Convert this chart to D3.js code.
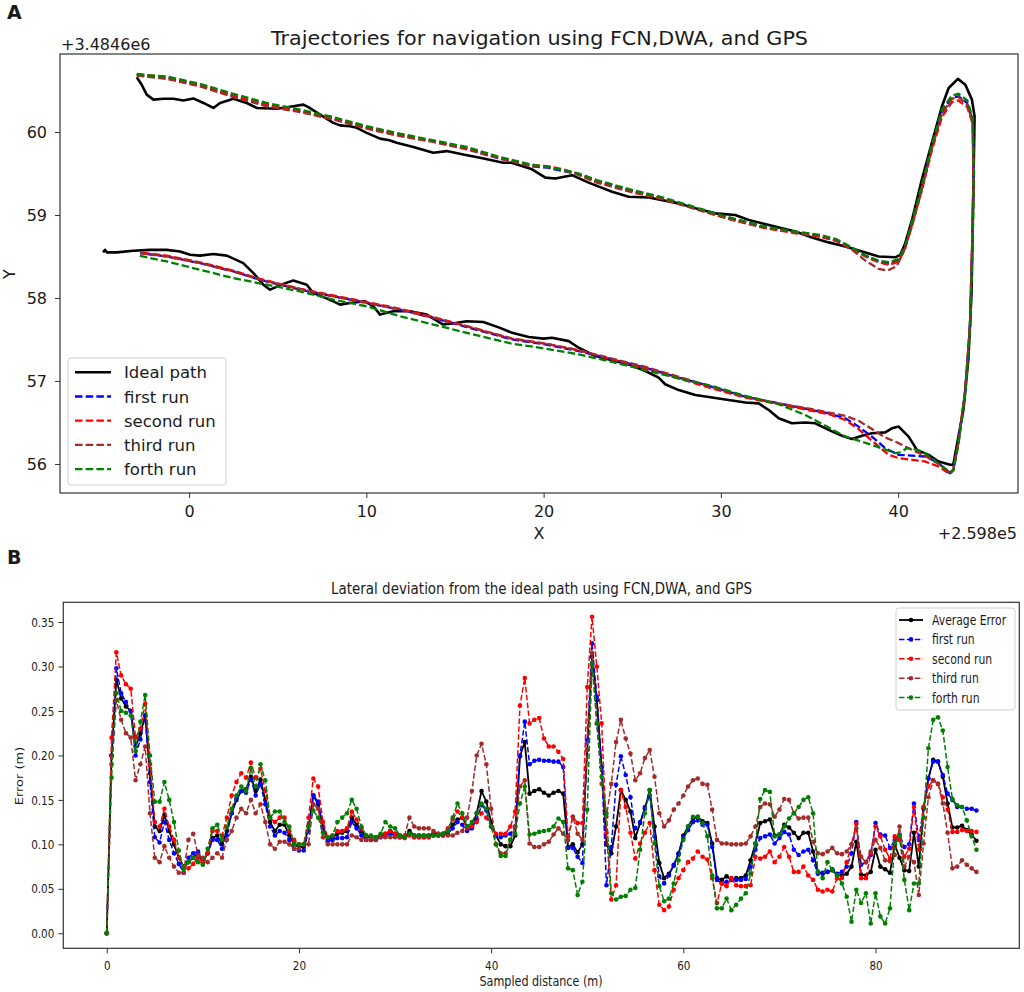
<!DOCTYPE html>
<html><head><meta charset="utf-8">
<script src="https://cdn.jsdelivr.net/npm/d3@7"></script>
<style>body{margin:0;background:#fff}svg{display:block}text{font-family:"DejaVu Sans",sans-serif;fill:#1a1a1a}</style>
</head><body>
<svg id="c" width="1024" height="992"></svg>
<script>
// ---------------- Panel A data (X offset +2.598e5, Y offset +3.4846e6) ----------------
const xTicksA = [0, 10, 20, 30, 40];
const yTicksA = [56, 57, 58, 59, 60];
const idealPath = [[-2.95,60.66],[-2.67,60.57],[-2.39,60.45],[-2.01,60.39],[-1.45,60.40],[-0.88,60.40],[-0.32,60.38],[0.24,60.405],[0.81,60.35],[1.37,60.29],[1.75,60.35],[2.5,60.40],[3.25,60.35],[3.82,60.29],[4.95,60.28],[5.88,60.31],[6.45,60.33],[6.73,60.30],[7.39,60.21],[8.14,60.11],[8.52,60.08],[9.08,60.07],[9.46,60.05],[10.02,59.99],[10.77,59.92],[11.3,59.90],[11.71,59.87],[12.65,59.82],[13.78,59.75],[14.53,59.77],[15.47,59.73],[16.41,59.69],[17.73,59.63],[18.2,59.63],[19.35,59.55],[20.1,59.45],[20.66,59.44],[21.6,59.48],[22.54,59.39],[23.86,59.28],[24.8,59.22],[25.93,59.21],[27.62,59.14],[28.75,59.07],[29.69,59.02],[30.81,59.0],[31.57,58.94],[32.7,58.88],[34.2,58.80],[35.14,58.73],[36.08,58.67],[37.02,58.62],[37.96,58.56],[38.9,58.50],[39.84,58.49],[40.12,58.52],[40.4,58.66],[40.78,58.94],[41.34,59.43],[41.9,59.87],[42.47,60.31],[42.85,60.53],[43.37,60.64],[43.79,60.57],[44.16,60.39],[44.31,60.19],[44.24,59.27],[44.14,58.06],[43.96,57.26],[43.68,56.65],[43.33,56.25],[43.11,55.99],[42.94,55.99],[42.28,56.03],[41.72,56.11],[41.06,56.17],[40.59,56.33],[40.03,56.45],[39.65,56.43],[39.27,56.38],[38.52,56.37],[37.96,56.34],[37.4,56.30],[36.83,56.34],[36.08,56.41],[35.33,56.49],[34.76,56.50],[34.01,56.49],[33.26,56.55],[32.7,56.65],[32.13,56.73],[31.38,56.74],[30.44,56.77],[29.5,56.80],[28.56,56.83],[27.62,56.89],[26.86,56.96],[26.49,57.04],[25.74,57.12],[24.8,57.20],[23.86,57.25],[22.92,57.30],[21.98,57.40],[21.42,57.48],[20.47,57.52],[20.0,57.51],[19.16,57.53],[18.22,57.58],[17.54,57.64],[16.6,57.71],[15.66,57.72],[15.1,57.70],[14.34,57.68],[13.41,57.80],[12.46,57.84],[11.52,57.84],[10.77,57.80],[10.4,57.90],[9.93,57.96],[9.08,57.94],[8.52,57.92],[8.14,57.96],[7.58,58.01],[7.01,58.06],[6.64,58.16],[5.88,58.21],[5.32,58.17],[4.57,58.10],[4.19,58.16],[3.63,58.30],[3.06,58.42],[2.13,58.51],[1.37,58.53],[0.62,58.51],[0.06,58.52],[-0.51,58.56],[-1.26,58.58],[-2.2,58.58],[-3.14,58.57],[-4.08,58.55],[-4.64,58.55],[-4.74,58.58],[-4.85,58.55]];
const firstRunPath = [[-2.95,60.69],[-1.26,60.65],[0.62,60.56],[2.5,60.43],[4.38,60.32],[6.26,60.25],[8.14,60.16],[10.02,60.05],[11.9,59.96],[13.78,59.89],[15.66,59.80],[17.35,59.69],[19.23,59.59],[20.2,59.57],[21.1,59.53],[22.0,59.49],[23.0,59.41],[24.87,59.30],[26.75,59.20],[28.6,59.08],[30.5,58.96],[32.3,58.86],[34.2,58.79],[35.6,58.74],[36.5,58.69],[37.4,58.60],[38.15,58.51],[38.9,58.44],[39.5,58.41],[40.03,58.46],[40.4,58.62],[40.78,58.90],[41.34,59.34],[41.9,59.83],[42.47,60.23],[43.03,60.41],[43.41,60.43],[43.88,60.35],[44.2,60.15],[44.25,59.5],[44.2,58.86],[44.05,57.66],[43.77,56.86],[43.39,56.25],[43.11,55.93],[42.92,55.89],[42.28,56.01],[41.53,56.09],[40.78,56.10],[40.03,56.11],[39.27,56.19],[38.52,56.33],[37.77,56.45],[37.02,56.55],[36.08,56.61],[35.14,56.65],[33.26,56.73],[31.38,56.81],[29.5,56.93],[27.62,57.04],[25.74,57.16],[23.86,57.26],[21.98,57.36],[20.1,57.44],[18.22,57.50],[15.66,57.65],[13.78,57.76],[11.9,57.86],[10.02,57.94],[8.14,58.02],[6.26,58.10],[4.0,58.22],[2.5,58.32],[0.62,58.42],[-1.26,58.50],[-2.76,58.54]];
const secondRunPath = [[-2.95,60.70],[-1.26,60.66],[0.62,60.57],[2.5,60.44],[4.38,60.33],[6.26,60.25],[8.14,60.16],[10.02,60.06],[11.9,59.97],[13.78,59.89],[15.66,59.80],[17.35,59.70],[19.23,59.60],[20.2,59.59],[21.1,59.55],[22.0,59.49],[23.0,59.40],[24.87,59.29],[26.75,59.19],[28.6,59.07],[30.5,58.95],[32.3,58.85],[34.2,58.78],[35.6,58.74],[36.5,58.69],[37.4,58.59],[38.15,58.50],[38.9,58.43],[39.5,58.40],[40.03,58.44],[40.4,58.60],[40.78,58.88],[41.34,59.30],[41.9,59.78],[42.47,60.18],[43.03,60.36],[43.4,60.38],[43.9,60.30],[44.2,60.10],[44.25,59.5],[44.2,58.86],[44.05,57.66],[43.77,56.86],[43.39,56.24],[43.11,55.92],[42.9,55.88],[42.28,55.97],[41.5,56.03],[40.78,56.05],[40.03,56.07],[39.46,56.11],[38.52,56.28],[37.77,56.42],[37.02,56.53],[36.08,56.60],[35.14,56.64],[33.26,56.72],[31.38,56.80],[29.5,56.91],[27.62,57.03],[25.74,57.15],[23.86,57.26],[21.98,57.37],[20.1,57.45],[18.22,57.51],[15.66,57.66],[13.78,57.77],[11.9,57.87],[10.02,57.95],[8.14,58.03],[6.26,58.11],[4.0,58.23],[2.5,58.33],[0.62,58.43],[-1.26,58.51],[-2.76,58.55]];
const thirdRunPath = [[-2.95,60.68],[-1.26,60.64],[0.62,60.55],[2.5,60.42],[4.38,60.31],[6.26,60.24],[8.14,60.15],[10.02,60.04],[11.9,59.95],[13.78,59.88],[15.66,59.79],[17.35,59.69],[19.23,59.59],[20.2,59.58],[21.1,59.54],[22.0,59.48],[23.0,59.39],[24.87,59.28],[26.75,59.19],[28.6,59.07],[30.5,58.95],[32.3,58.86],[34.2,58.79],[35.6,58.75],[36.5,58.69],[37.4,58.58],[38.15,58.45],[38.9,58.35],[39.4,58.33],[39.9,58.38],[40.3,58.55],[40.78,58.86],[41.34,59.31],[41.9,59.80],[42.47,60.22],[43.03,60.40],[43.4,60.42],[43.9,60.33],[44.2,60.12],[44.25,59.5],[44.2,58.86],[44.05,57.66],[43.77,56.86],[43.39,56.25],[43.11,55.93],[42.92,55.90],[42.28,56.00],[41.5,56.10],[40.78,56.17],[40.03,56.25],[39.27,56.32],[38.52,56.42],[37.77,56.52],[37.02,56.58],[36.08,56.62],[35.14,56.66],[33.26,56.73],[31.38,56.81],[29.5,56.93],[27.62,57.05],[25.74,57.17],[23.86,57.27],[21.98,57.37],[20.1,57.45],[18.22,57.51],[15.66,57.66],[13.78,57.76],[11.9,57.86],[10.02,57.94],[8.14,58.02],[6.26,58.11],[4.0,58.22],[2.5,58.32],[0.62,58.42],[-1.26,58.50],[-2.76,58.54]];
const forthRunPath = [[-2.95,60.69],[-1.26,60.67],[0.62,60.58],[2.5,60.46],[4.38,60.35],[6.26,60.27],[8.14,60.18],[10.02,60.07],[11.9,59.98],[13.78,59.90],[15.66,59.82],[17.35,59.71],[19.23,59.61],[20.2,59.58],[21.1,59.54],[22.0,59.50],[23.0,59.42],[24.87,59.31],[26.75,59.21],[28.6,59.09],[30.5,58.97],[32.3,58.87],[34.2,58.80],[35.6,58.76],[36.5,58.71],[37.4,58.61],[38.15,58.51],[38.9,58.45],[39.5,58.43],[40.03,58.47],[40.4,58.63],[40.78,58.92],[41.34,59.36],[41.9,59.85],[42.47,60.27],[43.03,60.44],[43.4,60.46],[43.9,60.38],[44.2,60.17],[44.28,59.5],[44.22,58.86],[44.07,57.66],[43.79,56.86],[43.41,56.25],[43.13,55.93],[42.94,55.90],[42.47,55.97],[41.9,56.07],[41.34,56.15],[40.9,56.18],[40.5,56.19],[40.1,56.14],[39.84,56.13],[38.52,56.23],[37.02,56.33],[35.9,56.46],[34.76,56.59],[33.26,56.72],[31.38,56.82],[29.5,56.94],[27.62,57.03],[25.74,57.13],[23.86,57.23],[21.98,57.32],[20.1,57.39],[18.22,57.45],[15.66,57.58],[13.78,57.68],[11.9,57.78],[10.02,57.90],[8.14,57.98],[6.26,58.08],[4.38,58.16],[2.5,58.24],[0.62,58.34],[-1.26,58.44],[-2.86,58.51]];

// ---------------- Panel B data (sampled every 0.5 m) ----------------
const sampleStep = 0.5;
const xTicksB = [0, 20, 40, 60, 80];
const yTicksB = [0, 0.05, 0.10, 0.15, 0.20, 0.25, 0.30, 0.35];
const averageError = [0,0.2,0.285,0.264,0.255,0.25,0.21,0.225,0.245,0.18, 0.12,0.115,0.133,0.115,0.1,0.085,0.075,0.08,0.085,0.09, 0.08,0.09,0.107,0.11,0.1,0.115,0.135,0.15,0.16,0.162, 0.176,0.16,0.173,0.15,0.125,0.115,0.122,0.122,0.11,0.1, 0.097,0.097,0.12,0.155,0.145,0.12,0.105,0.108,0.112,0.113, 0.115,0.13,0.122,0.115,0.108,0.108,0.108,0.11,0.112,0.115, 0.112,0.11,0.108,0.115,0.11,0.11,0.11,0.11,0.112,0.112, 0.112,0.115,0.122,0.128,0.13,0.12,0.12,0.135,0.16,0.148, 0.125,0.11,0.1,0.098,0.098,0.11,0.199,0.215,0.157,0.16, 0.162,0.158,0.155,0.158,0.16,0.157,0.097,0.1,0.091,0.1, 0.206,0.311,0.262,0.187,0.1,0.09,0.12,0.161,0.15,0.137, 0.107,0.124,0.14,0.161,0.12,0.079,0.062,0.067,0.076,0.089, 0.11,0.12,0.129,0.131,0.126,0.124,0.101,0.062,0.06,0.064, 0.06,0.062,0.062,0.065,0.082,0.101,0.124,0.126,0.128,0.11, 0.111,0.122,0.119,0.113,0.107,0.113,0.113,0.092,0.069,0.067, 0.069,0.071,0.065,0.065,0.067,0.075,0.103,0.066,0.065,0.069, 0.094,0.075,0.072,0.068,0.1,0.085,0.071,0.07,0.113,0.075, 0.14,0.174,0.195,0.193,0.176,0.146,0.119,0.119,0.121,0.116, 0.111,0.104];
const firstRun = [0,0.2,0.298,0.27,0.26,0.25,0.2,0.218,0.245,0.17, 0.108,0.102,0.125,0.105,0.09,0.078,0.068,0.085,0.09,0.092, 0.08,0.09,0.105,0.105,0.095,0.11,0.135,0.152,0.16,0.158, 0.173,0.155,0.168,0.145,0.12,0.11,0.115,0.113,0.105,0.095, 0.093,0.093,0.115,0.155,0.148,0.118,0.103,0.105,0.107,0.107, 0.108,0.125,0.118,0.11,0.105,0.105,0.105,0.108,0.11,0.112, 0.11,0.108,0.108,0.112,0.108,0.108,0.108,0.108,0.11,0.11, 0.11,0.112,0.118,0.125,0.122,0.115,0.118,0.128,0.144,0.138, 0.12,0.11,0.108,0.11,0.112,0.12,0.2,0.238,0.19,0.194, 0.195,0.194,0.194,0.193,0.193,0.187,0.096,0.096,0.086,0.079, 0.217,0.326,0.266,0.187,0.054,0.097,0.167,0.199,0.178,0.153, 0.118,0.125,0.142,0.155,0.109,0.064,0.056,0.065,0.077,0.09, 0.107,0.116,0.125,0.127,0.122,0.122,0.097,0.06,0.056,0.058, 0.06,0.06,0.06,0.061,0.075,0.094,0.107,0.109,0.111,0.101, 0.107,0.114,0.111,0.094,0.088,0.092,0.094,0.082,0.067,0.068, 0.069,0.072,0.067,0.069,0.075,0.09,0.125,0.077,0.08,0.088, 0.124,0.111,0.11,0.096,0.105,0.111,0.097,0.1,0.146,0.105, 0.142,0.174,0.193,0.193,0.178,0.157,0.15,0.142,0.142,0.14, 0.14,0.138];
const secondRun = [0,0.22,0.316,0.29,0.28,0.275,0.22,0.23,0.258,0.19, 0.125,0.12,0.14,0.12,0.105,0.085,0.075,0.073,0.078,0.085, 0.08,0.09,0.115,0.115,0.11,0.13,0.155,0.17,0.18,0.175, 0.192,0.175,0.185,0.16,0.13,0.125,0.13,0.13,0.115,0.105, 0.1,0.1,0.13,0.174,0.165,0.125,0.108,0.11,0.115,0.115, 0.118,0.137,0.128,0.118,0.11,0.108,0.108,0.11,0.112,0.115, 0.112,0.108,0.107,0.11,0.108,0.108,0.108,0.108,0.11,0.11, 0.112,0.118,0.128,0.137,0.13,0.118,0.12,0.125,0.135,0.13, 0.12,0.112,0.112,0.112,0.12,0.137,0.256,0.287,0.236,0.24, 0.242,0.219,0.21,0.21,0.204,0.196,0.109,0.131,0.124,0.124, 0.277,0.356,0.3,0.236,0.113,0.038,0.054,0.161,0.142,0.113, 0.084,0.101,0.113,0.124,0.071,0.032,0.026,0.03,0.049,0.062, 0.071,0.08,0.084,0.092,0.086,0.083,0.062,0.034,0.056,0.053, 0.062,0.054,0.053,0.053,0.054,0.086,0.084,0.086,0.092,0.08, 0.086,0.097,0.086,0.069,0.069,0.075,0.065,0.06,0.049,0.047, 0.049,0.047,0.062,0.062,0.08,0.1,0.123,0.062,0.062,0.09, 0.12,0.109,0.094,0.084,0.109,0.105,0.086,0.095,0.142,0.094, 0.142,0.165,0.172,0.168,0.153,0.139,0.114,0.114,0.116,0.115, 0.115,0.114];
const thirdRun = [0,0.19,0.262,0.24,0.225,0.22,0.172,0.19,0.21,0.135, 0.085,0.08,0.098,0.085,0.075,0.068,0.068,0.105,0.112,0.088, 0.085,0.08,0.085,0.09,0.085,0.105,0.115,0.13,0.14,0.135, 0.15,0.135,0.145,0.125,0.1,0.095,0.103,0.103,0.1,0.095, 0.095,0.1,0.1,0.145,0.14,0.108,0.1,0.1,0.1,0.1, 0.1,0.11,0.108,0.105,0.105,0.105,0.105,0.108,0.108,0.108, 0.108,0.108,0.11,0.13,0.12,0.118,0.118,0.118,0.115,0.112, 0.11,0.11,0.11,0.113,0.115,0.13,0.16,0.2,0.213,0.19, 0.14,0.1,0.09,0.09,0.105,0.12,0.165,0.172,0.101,0.097, 0.097,0.1,0.103,0.111,0.118,0.112,0.105,0.131,0.112,0.105, 0.206,0.315,0.236,0.168,0.131,0.168,0.215,0.24,0.219,0.202, 0.172,0.18,0.197,0.206,0.176,0.135,0.12,0.127,0.139,0.146, 0.155,0.165,0.172,0.174,0.168,0.167,0.139,0.105,0.101,0.101, 0.1,0.1,0.1,0.101,0.109,0.12,0.142,0.146,0.145,0.131, 0.139,0.151,0.15,0.135,0.129,0.13,0.13,0.103,0.09,0.089, 0.092,0.096,0.09,0.089,0.092,0.1,0.118,0.086,0.08,0.092, 0.105,0.096,0.082,0.081,0.088,0.12,0.075,0.086,0.08,0.043, 0.101,0.153,0.172,0.168,0.146,0.113,0.073,0.075,0.082,0.077, 0.073,0.069];
const forthRun = [0,0.175,0.27,0.25,0.248,0.245,0.205,0.238,0.268,0.2, 0.148,0.148,0.17,0.15,0.125,0.093,0.072,0.08,0.085,0.08, 0.077,0.095,0.118,0.122,0.105,0.12,0.14,0.155,0.165,0.16, 0.186,0.165,0.19,0.172,0.13,0.137,0.137,0.125,0.12,0.1, 0.1,0.1,0.12,0.138,0.13,0.113,0.108,0.11,0.125,0.13, 0.135,0.15,0.14,0.12,0.11,0.11,0.108,0.112,0.125,0.12, 0.118,0.11,0.108,0.112,0.11,0.11,0.11,0.11,0.11,0.11, 0.112,0.115,0.13,0.146,0.135,0.12,0.125,0.135,0.146,0.14, 0.12,0.1,0.087,0.087,0.105,0.112,0.146,0.165,0.111,0.112, 0.114,0.115,0.116,0.12,0.129,0.125,0.073,0.071,0.043,0.058, 0.139,0.303,0.236,0.176,0.135,0.045,0.038,0.041,0.042,0.049, 0.051,0.094,0.135,0.161,0.101,0.053,0.036,0.039,0.056,0.082, 0.105,0.12,0.131,0.131,0.124,0.109,0.065,0.028,0.028,0.039, 0.026,0.032,0.039,0.045,0.067,0.101,0.151,0.161,0.159,0.109, 0.111,0.12,0.129,0.135,0.142,0.15,0.153,0.135,0.069,0.062, 0.08,0.071,0.065,0.056,0.041,0.013,0.049,0.034,0.045,0.011, 0.045,0.019,0.011,0.028,0.101,0.11,0.06,0.026,0.056,0.056, 0.13,0.208,0.24,0.243,0.228,0.187,0.151,0.144,0.142,0.127, 0.109,0.094];

const runNames = ["first run", "second run", "third run", "forth run"];
const runColors = ["#0000ff", "#ff0000", "#a52a2a", "#008000"];

// ---------------- drawing ----------------
const svg = d3.select("#c");
const FONT = '"DejaVu Sans", sans-serif';

function squeeze(sel, f) {
  sel.each(function () {
    const w = this.getComputedTextLength();
    d3.select(this).attr("textLength", w * f).attr("lengthAdjust", "spacingAndGlyphs");
  });
}

// ===== Panel A =====
const A = { l: 60, r: 1018, t: 54, b: 493 };
const xA = d3.scaleLinear().domain([-7.28, 46.76]).range([A.l, A.r]);
const yA = d3.scaleLinear().domain([55.65, 60.94]).range([A.b, A.t]);
const gA = svg.append("g");

svg.append("text").attr("x", 7).attr("y", 19).attr("font-size", 19).attr("font-weight", "bold")
  .attr("font-family", "Liberation Sans, Arial, sans-serif").text("A");

const lineA = d3.line().x(d => xA(d[0])).y(d => yA(d[1]));

gA.append("path").datum(idealPath).attr("d", lineA).attr("fill", "none")
  .attr("stroke", "#000").attr("stroke-width", 2.6).attr("stroke-linejoin", "round");
[firstRunPath, secondRunPath, thirdRunPath, forthRunPath].forEach((p, i) => {
  gA.append("path").datum(p).attr("d", lineA).attr("fill", "none")
    .attr("stroke", runColors[i]).attr("stroke-width", 2.3).attr("stroke-dasharray", "7.5,3.2");
});

gA.append("rect").attr("x", A.l).attr("y", A.t).attr("width", A.r - A.l).attr("height", A.b - A.t)
  .attr("fill", "none").attr("stroke", "#333").attr("stroke-width", 1.2);

const axA_x = gA.append("g").attr("transform", `translate(0,${A.b})`)
  .call(d3.axisBottom(xA).tickValues(xTicksA).tickSize(5).tickPadding(8).tickFormat(d3.format("d")));
const axA_y = gA.append("g").attr("transform", `translate(${A.l},0)`)
  .call(d3.axisLeft(yA).tickValues(yTicksA).tickSize(5).tickPadding(8).tickFormat(d3.format("d")));
[axA_x, axA_y].forEach(ax => {
  ax.select(".domain").remove();
  ax.selectAll("line").attr("stroke", "#333");
  ax.selectAll("text").attr("font-size", 16).attr("font-family", FONT).attr("fill", "#1a1a1a");
});

svg.append("text").attr("x", 539.5).attr("y", 45).attr("text-anchor", "middle")
  .attr("font-size", 20).attr("textLength", 537).attr("lengthAdjust", "spacingAndGlyphs")
  .text("Trajectories for navigation using FCN,DWA, and GPS");
svg.append("text").attr("x", 61).attr("y", 50).attr("font-size", 16).text("+3.4846e6");
svg.append("text").attr("x", 1017).attr("y", 539).attr("text-anchor", "end").attr("font-size", 16).text("+2.598e5");
svg.append("text").attr("x", 539).attr("y", 539).attr("text-anchor", "middle").attr("font-size", 16).text("X");
svg.append("text").attr("transform", "translate(15,274) rotate(-90)").attr("text-anchor", "middle").attr("font-size", 16).text("Y");

// legend A
const legA = svg.append("g");
legA.append("rect").attr("x", 68).attr("y", 358).attr("width", 158).attr("height", 127).attr("rx", 3)
  .attr("fill", "#fff").attr("fill-opacity", 0.85).attr("stroke", "#d0d0d0");
const legAItems = [{ n: "Ideal path", c: "#000", dash: null }].concat(runNames.map((n, i) => ({ n, c: runColors[i], dash: "7.5,3.2" })));
legAItems.forEach((it, i) => {
  const y = 372.3 + i * 24.2;
  legA.append("line").attr("x1", 75).attr("x2", 111).attr("y1", y).attr("y2", y)
    .attr("stroke", it.c).attr("stroke-width", it.dash ? 2.3 : 2.6).attr("stroke-dasharray", it.dash);
  legA.append("text").attr("x", 124).attr("y", y + 6).attr("font-size", 16.5).text(it.n);
});

// ===== Panel B =====
const B = { l: 63.3, r: 1019.3, t: 602.3, b: 948.3 };
const xB = d3.scaleLinear().domain([-4.52, 94.96]).range([B.l, B.r]);
const yB = d3.scaleLinear().domain([-0.0169, 0.3722]).range([B.b, B.t]);
const gB = svg.append("g");
const SQ = 0.8;

svg.append("text").attr("x", 7).attr("y", 564).attr("font-size", 19).attr("font-weight", "bold")
  .attr("font-family", "Liberation Sans, Arial, sans-serif").text("B");

const seriesB = [
  { name: "Average Error", vals: averageError, color: "#000", dash: null },
  { name: runNames[0], vals: firstRun, color: runColors[0], dash: "5.5,2.4" },
  { name: runNames[1], vals: secondRun, color: runColors[1], dash: "5.5,2.4" },
  { name: runNames[2], vals: thirdRun, color: runColors[2], dash: "5.5,2.4" },
  { name: runNames[3], vals: forthRun, color: runColors[3], dash: "5.5,2.4" }
];
const lineB = d3.line().x((d, i) => xB(i * sampleStep)).y(d => yB(d));
seriesB.forEach(s => {
  const g = gB.append("g");
  g.append("path").datum(s.vals).attr("d", lineB).attr("fill", "none")
    .attr("stroke", s.color).attr("stroke-width", s.dash ? 1.5 : 1.8).attr("stroke-dasharray", s.dash);
  g.selectAll("circle").data(s.vals).join("circle")
    .attr("cx", (d, i) => xB(i * sampleStep)).attr("cy", d => yB(d)).attr("r", 2.3).attr("fill", s.color);
});

gB.append("rect").attr("x", B.l).attr("y", B.t).attr("width", B.r - B.l).attr("height", B.b - B.t)
  .attr("fill", "none").attr("stroke", "#333").attr("stroke-width", 1.2);

const axB_x = gB.append("g").attr("transform", `translate(0,${B.b})`)
  .call(d3.axisBottom(xB).tickValues(xTicksB).tickSize(5).tickPadding(7).tickFormat(d3.format("d")));
const axB_y = gB.append("g").attr("transform", `translate(${B.l},0)`)
  .call(d3.axisLeft(yB).tickValues(yTicksB).tickSize(5).tickPadding(4).tickFormat(d3.format(".2f")));
[axB_x, axB_y].forEach(ax => {
  ax.select(".domain").remove();
  ax.selectAll("line").attr("stroke", "#333");
  ax.selectAll("text").attr("font-size", 13).attr("font-family", FONT).attr("fill", "#1a1a1a");
  squeeze(ax.selectAll("text"), SQ);
});

svg.append("text").attr("x", 541.5).attr("y", 594).attr("text-anchor", "middle")
  .attr("font-size", 16).attr("textLength", 421).attr("lengthAdjust", "spacingAndGlyphs")
  .text("Lateral deviation from the ideal path using FCN,DWA, and GPS");
svg.append("text").attr("x", 541).attr("y", 986).attr("text-anchor", "middle")
  .attr("font-size", 14).attr("textLength", 123).attr("lengthAdjust", "spacingAndGlyphs")
  .text("Sampled distance (m)");
svg.append("text").attr("transform", "translate(23,776) rotate(-90) scale(1,0.8)").attr("text-anchor", "middle")
  .attr("font-size", 13).text("Error (m)");

// legend B
const legB = svg.append("g");
legB.append("rect").attr("x", 896).attr("y", 608).attr("width", 119).attr("height", 102).attr("rx", 3)
  .attr("fill", "#fff").attr("fill-opacity", 0.85).attr("stroke", "#d0d0d0");
seriesB.forEach((s, i) => {
  const y = 620 + i * 19.4;
  legB.append("line").attr("x1", 899).attr("x2", 923).attr("y1", y).attr("y2", y)
    .attr("stroke", s.color).attr("stroke-width", s.dash ? 1.5 : 1.8).attr("stroke-dasharray", s.dash);
  legB.append("circle").attr("cx", 911).attr("cy", y).attr("r", 2.3).attr("fill", s.color);
  const t = legB.append("text").attr("x", 932).attr("y", y + 5).attr("font-size", 13.5).text(s.name);
  squeeze(t, SQ);
});
</script>
</body></html>
